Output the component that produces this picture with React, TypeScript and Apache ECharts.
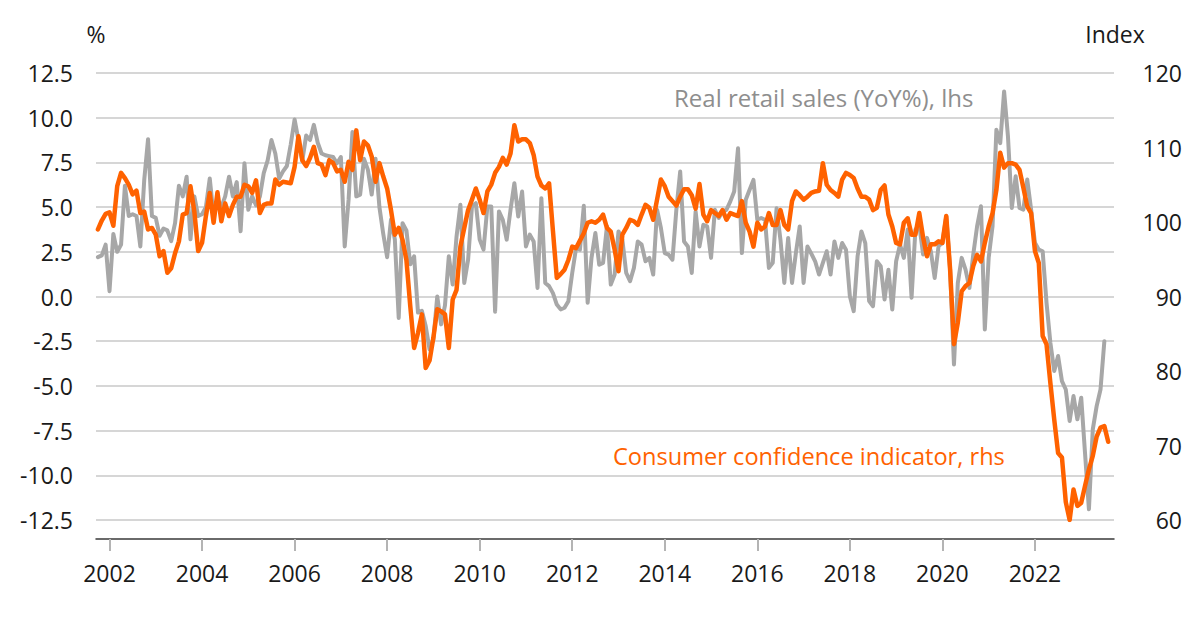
import React, { useEffect, useRef } from "react";
import * as echarts from "echarts";

// Monthly categories: Oct 2001 .. Sep 2023
const startYear = 2001;
const startMonth = 10;
const monthCount = 264;
const months: string[] = [];
for (let k = 0; k < monthCount; k++) {
  const m = startMonth - 1 + k;
  const y = startYear + Math.floor(m / 12);
  const mm = (m % 12) + 1;
  months.push(`${y}-${mm < 10 ? "0" + mm : mm}`);
}

// Real retail sales, YoY %, left axis (Oct 2001 .. Jul 2023)
const retailSales: number[] = [
  2.2, 2.3, 2.9, 0.3, 3.5, 2.5, 2.9, 6.2, 4.5, 4.6, 4.5, 2.8,
  6.5, 8.8, 4.5, 4.4, 3.4, 3.8, 3.7, 3.1, 4.1, 6.2, 5.6, 6.7,
  3.2, 5.6, 4.5, 4.6, 5.0, 6.6, 4.5, 5.4, 5.0, 5.6, 6.7, 5.6,
  6.4, 3.65, 7.45, 4.85, 5.6, 5.1, 5.6, 6.9, 7.6, 8.75, 8.0, 6.6,
  7.0, 7.3, 8.5, 9.9, 8.75, 7.6, 9.0, 8.75, 9.6, 8.6, 8.0, 7.9,
  7.85, 7.8, 7.45, 7.8, 2.8, 5.4, 9.2, 5.6, 5.7, 7.7, 7.1, 5.7,
  7.7, 5.0, 3.5, 2.2, 4.3, 3.2, -1.2, 4.1, 3.7, 1.8, 2.25, -0.9,
  -0.8, -1.65, -2.96, -2.4, 0.0, -1.56, -0.5, 2.25, 0.67, 3.36, 5.13, 0.76,
  2.06, 5.04, 5.22, 3.18, 2.62, 5.04, 5.04, -0.85, 4.76, 4.29, 3.18, 4.85,
  6.34, 4.48, 5.87, 2.8, 3.46, 3.08, 0.48, 5.5, 0.76, 0.58, 0.19, -0.45,
  -0.72, -0.63, -0.26, 1.32, 2.71, 2.62, 5.07, -0.35, 2.16, 3.55, 1.78, 1.88,
  3.92, 0.67, 1.23, 3.64, 3.18, 1.32, 0.86, 1.6, 3.08, 2.9, 1.97, 2.16,
  1.23, 4.85, 3.83, 2.43, 2.34, 2.06, 4.85, 6.99, 3.08, 2.8, 1.32, 4.76,
  2.8, 4.01, 3.92, 2.16, 4.85, 4.39, 4.76, 4.85, 5.32, 5.87, 8.29, 2.43,
  5.41, 5.97, 6.52, 4.29, 4.39, 4.29, 1.6, 1.88, 4.94, 3.18, 0.76, 3.27,
  0.76, 2.43, 3.92, 0.76, 2.8, 2.4, 1.97, 1.23, 1.88, 2.53, 1.23, 3.08,
  2.16, 2.99, 2.62, 0.02, -0.82, 2.25, 3.64, 2.99, -0.26, -0.54, 1.97, 1.69,
  -0.17, 1.5, -0.73, 1.97, 2.9, 2.16, 3.74, -0.07, 3.74, 4.02, 2.35, 3.28,
  2.53, 1.04, 2.81, 3.0, 4.49, 1.5, -3.8, 0.76, 2.16, 1.5, 0.48, 2.35,
  3.93, 5.05, -1.84, 2.16, 3.93, 9.33, 8.58, 11.47, 8.96, 4.95, 6.72, 4.95,
  4.86, 6.54, 4.86, 3.0, 2.62, 2.53, -0.35, -2.59, -4.17, -3.33, -4.73, -5.2,
  -6.96, -5.57, -6.87, -5.66, -8.8, -11.9, -7.43, -6.13, -5.2, -2.5,
];

// Consumer confidence indicator, index, right axis (Oct 2001 .. Aug 2023)
const consumerConfidence: number[] = [
  99.0, 100.2, 101.1, 101.3, 99.5, 104.8, 106.6, 105.9, 105.0, 103.7, 104.2, 101.2,
  101.4, 99.0, 99.2, 98.3, 95.4, 96.1, 93.2, 93.8, 95.8, 97.4, 101.0, 101.2,
  104.8, 101.4, 96.1, 97.2, 100.8, 103.9, 99.9, 104.0, 100.1, 102.5, 100.8, 102.3,
  103.4, 103.4, 105.0, 104.8, 103.9, 105.6, 101.2, 102.3, 102.5, 102.5, 105.7, 105.0,
  105.4, 105.3, 105.2, 107.4, 111.5, 108.3, 107.5, 108.6, 110.1, 107.9, 107.7, 106.3,
  108.3, 107.9, 106.8, 107.0, 105.4, 108.1, 107.0, 112.3, 108.3, 110.8, 110.3, 108.8,
  105.4, 107.9, 106.1, 104.5, 101.6, 98.3, 99.2, 97.6, 94.9, 88.7, 83.1, 85.1,
  87.6, 80.4, 81.4, 84.5, 88.3, 88.0, 87.6, 83.1, 89.6, 90.9, 96.7, 99.2,
  101.6, 103.0, 104.5, 103.0, 101.2, 104.1, 105.0, 106.6, 107.4, 108.6, 107.7, 109.2,
  113.0, 110.8, 111.1, 111.1, 110.6, 109.0, 106.1, 104.9, 104.5, 105.2, 98.8, 92.5,
  93.0, 93.6, 94.9, 96.7, 96.5, 97.5, 98.5, 99.9, 100.1, 99.9, 100.3, 101.0,
  99.2, 98.7, 96.3, 93.4, 98.3, 99.2, 100.3, 100.1, 99.6, 101.0, 102.3, 101.9,
  100.3, 103.0, 105.7, 104.8, 103.4, 102.8, 102.2, 103.4, 104.4, 104.4, 103.6, 101.8,
  105.1, 101.0, 100.1, 101.6, 101.2, 100.8, 101.6, 100.3, 101.2, 101.0, 100.8, 102.8,
  99.9, 98.7, 96.7, 99.9, 99.0, 99.4, 101.2, 99.6, 99.6, 101.6, 99.6, 99.0,
  102.8, 104.1, 103.6, 103.0, 103.4, 103.9, 104.1, 104.2, 107.9, 105.0, 104.3, 103.9,
  103.4, 105.7, 106.6, 106.3, 105.9, 104.5, 103.4, 103.4, 103.0, 101.6, 101.9, 104.3,
  104.9, 101.0, 99.4, 97.2, 97.0, 99.9, 100.5, 98.3, 98.3, 101.2, 97.9, 95.4,
  97.0, 97.0, 97.4, 97.2, 100.8, 93.6, 83.6, 86.5, 90.7, 91.4, 91.8, 94.1,
  95.6, 94.7, 97.2, 99.4, 101.2, 104.3, 109.3, 107.3, 107.9, 107.9, 107.7, 107.0,
  104.6, 102.1, 101.2, 96.1, 94.5, 84.7, 83.6, 78.4, 73.5, 69.0, 68.4, 62.4,
  60.0, 64.1, 61.9, 62.3, 64.6, 66.8, 68.6, 71.2, 72.4, 72.6, 70.5,
];

const leftAxisMin = -12.5;
const leftAxisMax = 12.5;
const leftAxisStep = 2.5;
const rightAxisMin = 60;
const rightAxisMax = 120;
const rightAxisStep = 10;

const leftUnit = "%";
const rightUnit = "Index";
const retailLabel = "Real retail sales (YoY%), lhs";
const confidenceLabel = "Consumer confidence indicator, rhs";

const FONT = "'Open Sans', 'Noto Sans', sans-serif";
const ORANGE = "#ff6200";
const GREY_LINE = "#a7a7a7";
const GREY_TEXT = "#8e8e8e";
const INK = "#1a1a1a";

const isEvenJanuary = (_idx: number, val: string) => {
  const [y, m] = val.split("-");
  return m === "01" && Number(y) % 2 === 0;
};

export default function App() {
  const ref = useRef<HTMLDivElement>(null);

  useEffect(() => {
    document.body.style.margin = "0";
    if (!ref.current) return;
    const chart = echarts.init(ref.current, undefined, { renderer: "svg" });
    chart.setOption({
      animation: false,
      backgroundColor: "#ffffff",
      textStyle: { fontFamily: FONT },
      grid: { left: 96, right: 86, top: 73, bottom: 99, containLabel: false },
      xAxis: {
        type: "category",
        data: months,
        boundaryGap: true,
        offset: 19,
        axisLine: { show: true, onZero: false, lineStyle: { color: "#3a3a3a", width: 1.5 } },
        axisTick: {
          show: true,
          alignWithLabel: true,
          interval: isEvenJanuary,
          length: 12,
          lineStyle: { color: "#b4b4b4", width: 2 },
        },
        axisLabel: {
          interval: isEvenJanuary,
          formatter: (v: string) => v.slice(0, 4),
          fontSize: 23,
          fontFamily: FONT,
          color: INK,
          margin: 22,
        },
        splitLine: { show: false },
      },
      yAxis: [
        {
          type: "value",
          min: leftAxisMin,
          max: leftAxisMax,
          interval: leftAxisStep,
          axisLine: { show: false },
          axisTick: { show: false },
          axisLabel: {
            formatter: (v: number) => v.toFixed(1),
            fontSize: 23,
            fontFamily: FONT,
            color: INK,
            margin: 23,
          },
          splitLine: { show: true, lineStyle: { color: "#c9c9c9", width: 1.5 } },
        },
        {
          type: "value",
          position: "right",
          min: rightAxisMin,
          max: rightAxisMax,
          interval: rightAxisStep,
          axisLine: { show: false },
          axisTick: { show: false },
          axisLabel: {
            fontSize: 23,
            fontFamily: FONT,
            color: INK,
            align: "right",
            margin: 68,
          },
          splitLine: { show: false },
        },
      ],
      series: [
        {
          name: retailLabel,
          type: "line",
          yAxisIndex: 0,
          data: retailSales,
          symbol: "none",
          z: 2,
          lineStyle: { color: GREY_LINE, width: 4, join: "round", cap: "round" },
        },
        {
          name: confidenceLabel,
          type: "line",
          yAxisIndex: 1,
          data: consumerConfidence,
          symbol: "none",
          z: 3,
          lineStyle: { color: ORANGE, width: 4.5, join: "round", cap: "round" },
        },
      ],
      graphic: [
        {
          type: "text",
          x: 96,
          y: 34,
          style: { text: leftUnit, fontSize: 23, fontFamily: FONT, fill: INK, align: "center", verticalAlign: "middle" },
        },
        {
          type: "text",
          x: 1115,
          y: 34,
          style: { text: rightUnit, fontSize: 23, fontFamily: FONT, fill: INK, align: "center", verticalAlign: "middle" },
        },
        {
          type: "text",
          x: 674,
          y: 97,
          style: { text: retailLabel, fontSize: 24, fontFamily: FONT, fill: GREY_TEXT, align: "left", verticalAlign: "middle" },
        },
        {
          type: "text",
          x: 613,
          y: 456,
          style: { text: confidenceLabel, fontSize: 23.6, fontFamily: FONT, fill: ORANGE, align: "left", verticalAlign: "middle" },
        },
      ],
    });
    return () => chart.dispose();
  }, []);

  return <div ref={ref} style={{ width: 1200, height: 619 }} />;
}
